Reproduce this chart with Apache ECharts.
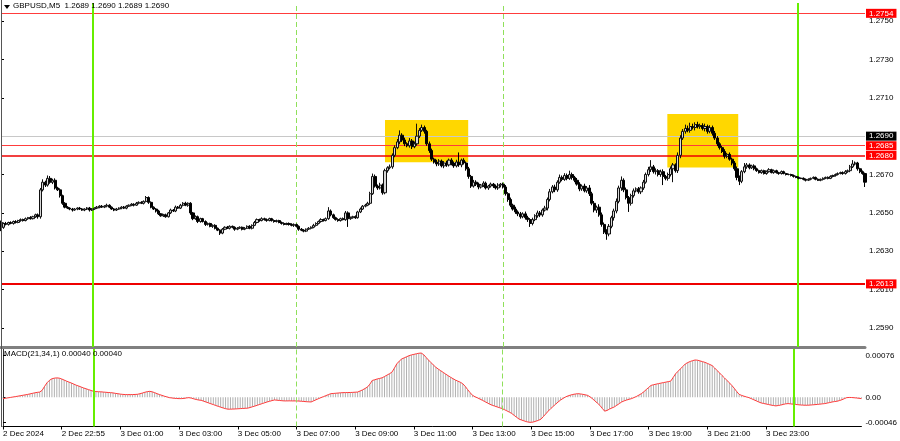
<!DOCTYPE html>
<html><head><meta charset="utf-8">
<script src="https://cdn.jsdelivr.net/npm/echarts@6/dist/echarts.min.js"></script>
<style>html,body{margin:0;padding:0;background:#fff}#c{width:900px;height:441px}</style>
</head><body><div id="c"></div>
<script>
// ---------------- DATA ----------------
const BASE = 1.2600;          // closes / wicks are given in pips above BASE
const firstOpen = 45.0;
const closes = [
42.5,44.5,44.0,45.0,44.5,45.5,45.0,46.0,46.5,46.0,
47.0,47.5,47.0,48.0,49.0,48.0,62.0,66.0,64.5,68.0,
66.0,67.0,63.0,62.0,59.0,55.0,53.0,52.5,52.0,51.5,
52.0,52.5,52.0,51.5,52.0,52.5,51.5,52.0,52.5,53.0,
53.5,53.0,53.5,54.0,53.0,52.0,51.5,52.0,52.5,53.0,
52.5,53.5,54.0,54.5,54.0,55.0,55.5,55.0,56.0,58.0,
55.5,53.0,52.0,51.0,49.5,48.5,49.0,48.0,50.0,51.5,
51.0,53.0,52.5,54.0,55.0,54.0,55.0,50.0,47.0,48.0,
45.5,47.0,45.5,44.0,44.5,43.0,43.5,42.0,41.0,39.5,
41.5,42.5,42.0,43.0,42.5,41.5,42.0,42.5,41.5,42.0,
43.0,42.0,43.5,45.0,46.5,46.0,47.0,46.5,46.0,47.0,
46.0,45.5,46.0,45.0,44.5,44.0,44.5,44.0,43.5,44.0,
43.0,41.5,41.0,40.5,41.5,42.0,42.5,43.5,44.5,45.5,
46.5,46.0,47.0,51.0,49.0,47.5,46.5,46.0,47.0,46.5,
50.0,47.0,47.5,48.0,47.5,50.5,52.0,53.5,54.0,55.0,
60.0,69.0,64.0,63.0,64.5,60.5,72.0,73.5,74.0,80.0,
84.0,87.0,90.5,88.0,86.0,85.0,87.5,84.5,86.0,90.0,
93.0,94.5,92.5,86.0,82.5,78.0,76.5,75.5,77.0,74.5,
76.0,75.0,77.5,76.0,74.5,76.5,75.0,77.5,76.0,73.0,
69.0,64.0,66.0,65.0,63.5,64.5,65.5,63.0,64.0,65.0,
64.0,63.0,64.5,65.0,63.5,60.0,57.0,54.0,52.0,50.5,
49.5,48.0,49.5,47.5,46.5,44.5,46.5,48.5,50.0,49.0,
51.5,52.5,57.0,61.0,63.5,62.0,66.0,68.5,67.5,69.5,
68.0,70.0,68.5,67.0,65.0,62.5,64.0,61.5,63.0,60.0,
55.0,51.5,53.0,49.0,44.0,40.0,39.0,43.0,47.5,51.0,
56.0,63.0,67.0,62.0,58.0,55.0,59.0,61.5,62.5,61.0,
63.0,66.0,70.0,72.5,74.0,71.5,72.0,70.0,71.5,69.0,
68.0,70.0,73.0,75.0,72.0,80.0,89.0,92.5,94.0,93.0,
95.0,94.5,96.0,95.0,95.5,94.0,95.0,92.5,94.5,91.5,
89.0,86.0,84.0,82.0,79.5,80.5,78.0,76.0,73.0,68.5,
66.5,71.5,74.0,75.0,73.5,74.5,73.0,72.0,71.0,72.0,
70.5,71.5,72.5,71.0,72.0,71.0,70.5,71.5,70.5,70.0,
70.0,69.5,69.0,68.5,68.0,68.0,67.5,67.0,67.5,68.0,
68.5,67.5,67.0,67.5,68.0,68.5,68.0,69.0,69.5,70.0,
70.5,71.0,70.5,71.5,72.0,74.0,75.5,76.0,73.0,71.5,
70.5,66.0
];
const wickUp = [
1.0,0.5,0.8,0.4,0.6,0.5,0.7,0.4,0.6,0.5,
0.6,0.4,0.8,0.5,0.6,0.7,1.0,1.5,0.8,1.5,
1.2,0.8,1.0,0.6,0.8,0.5,0.6,0.5,0.4,0.6,
0.5,0.4,0.6,0.5,0.4,0.5,0.6,0.5,0.4,0.6,
0.5,0.6,0.5,0.8,0.5,0.4,0.5,0.6,0.4,0.5,
0.6,0.5,0.4,0.6,0.5,0.7,0.5,0.6,0.5,0.8,
0.6,0.5,0.4,0.5,0.6,0.4,0.5,0.6,0.5,0.7,
0.5,0.8,0.6,0.7,0.6,0.8,0.5,0.6,0.5,0.7,
0.6,0.5,0.4,0.6,0.5,0.4,0.5,0.6,0.4,0.5,
0.6,0.5,0.7,0.5,0.4,0.5,0.6,0.5,0.4,0.6,
0.5,0.6,0.5,0.8,0.6,0.5,0.7,0.5,0.6,0.5,
0.4,0.6,0.5,0.4,0.5,0.6,0.4,0.5,0.6,0.5,
0.4,0.5,0.6,0.5,0.4,0.6,0.5,0.8,0.6,0.5,
0.7,0.5,0.6,2.0,0.8,0.6,0.5,0.7,0.5,0.6,
1.0,0.8,0.6,0.5,0.7,0.6,0.8,0.6,0.7,0.8,
1.0,1.5,1.0,0.8,1.2,0.8,1.0,0.8,1.2,1.0,
1.2,1.5,2.5,1.0,1.2,0.8,1.5,1.0,1.2,6.5,
1.2,1.5,1.0,0.8,1.2,1.0,0.8,1.2,1.0,0.8,
1.0,1.2,0.8,1.0,0.8,1.2,5.0,0.8,1.0,0.8,
1.0,0.8,1.2,1.0,0.8,0.6,1.0,0.8,0.6,0.8,
0.6,0.8,1.0,0.6,0.8,1.0,0.8,1.0,0.8,1.2,
0.8,1.0,0.8,1.2,1.0,0.8,1.0,0.8,1.2,1.0,
0.8,1.2,1.0,1.5,1.0,1.2,1.0,1.5,1.0,1.2,
1.0,2.0,1.0,0.8,1.2,1.0,0.8,1.2,1.0,1.5,
1.0,1.2,0.8,1.5,1.2,1.0,1.5,1.2,1.0,1.2,
1.5,1.2,2.0,1.0,1.2,0.8,1.0,1.2,0.8,1.0,
0.8,1.2,1.0,1.5,3.5,1.0,1.2,0.8,1.0,1.2,
0.8,1.0,1.2,1.0,0.8,1.5,1.5,1.2,2.0,1.5,
2.0,1.5,1.2,1.5,1.0,1.2,1.5,1.0,1.2,1.0,
1.2,1.0,0.8,1.0,1.2,0.8,1.0,0.8,1.0,1.2,
1.0,0.8,2.0,1.0,0.8,0.6,0.8,0.6,0.5,0.6,
0.5,0.6,0.8,0.5,0.6,0.5,0.4,0.6,0.5,0.4,
0.5,0.4,0.5,0.4,0.5,0.4,0.5,0.4,0.5,0.4,
0.5,0.4,0.5,0.4,0.5,0.4,0.5,0.6,0.4,0.5,
0.6,0.5,0.6,0.8,0.6,1.0,2.0,0.8,0.6,0.5,
0.6,0.5
];
const wickDn = [
2.0,0.8,0.5,0.6,0.4,0.6,0.5,0.4,0.6,0.5,
0.4,0.6,0.5,0.4,0.6,1.0,1.0,0.8,1.0,0.8,
0.8,1.0,0.8,0.6,1.0,0.8,0.6,0.5,0.6,0.8,
0.4,0.6,0.5,0.4,0.6,0.5,0.8,0.5,0.4,0.5,
0.6,0.4,0.5,0.6,0.5,0.4,0.6,0.5,0.4,0.6,
0.5,0.6,0.4,0.5,0.6,0.4,0.5,0.4,0.6,0.5,
0.8,0.6,0.5,0.8,0.6,0.5,0.6,0.5,0.4,0.6,
0.5,0.6,0.4,0.5,0.6,0.5,0.8,1.0,0.8,0.6,
0.8,0.6,0.5,0.8,0.6,0.5,0.8,0.6,0.5,1.0,
0.6,0.5,0.4,0.6,0.5,0.8,0.5,0.4,0.6,0.5,
0.4,0.5,0.6,0.4,0.5,0.6,0.4,0.5,0.6,0.4,
0.5,0.6,0.5,0.4,0.6,0.5,0.4,0.6,0.5,0.8,
0.6,0.8,0.5,0.6,0.5,0.4,0.6,0.5,0.6,0.5,
0.6,0.5,0.4,0.6,0.8,0.6,0.5,0.6,0.5,0.4,
0.6,4.3,0.6,0.5,0.6,0.5,0.6,0.5,0.6,0.5,
0.8,0.6,0.8,1.0,0.8,1.0,0.8,1.0,0.8,1.0,
1.0,0.8,1.2,1.0,1.2,0.8,1.0,1.2,0.8,1.0,
1.0,0.8,1.2,1.0,1.2,1.0,0.8,1.2,1.0,0.8,
1.2,1.0,0.8,1.2,1.0,0.8,1.0,1.2,0.8,1.0,
1.2,1.0,0.8,1.0,1.2,0.8,1.0,0.8,1.0,0.8,
1.0,0.8,1.0,1.2,0.8,1.0,1.2,1.0,0.8,1.0,
1.2,1.0,0.8,1.0,1.2,1.8,1.0,0.8,1.0,1.2,
1.0,0.8,1.2,1.0,0.8,1.2,1.0,0.8,1.0,0.8,
1.0,0.8,1.2,1.0,0.8,1.2,1.0,0.8,1.0,1.2,
1.0,1.2,1.5,1.0,1.2,1.0,3.0,1.2,1.0,1.5,
1.2,1.0,1.5,1.2,1.0,4.5,1.2,1.0,0.8,1.0,
1.2,1.0,0.8,1.0,1.2,1.0,1.5,1.0,1.2,4.5,
1.0,1.2,1.0,7.0,1.0,1.2,1.5,1.0,1.2,1.0,
1.2,1.0,1.5,1.0,1.2,1.0,1.5,1.2,1.0,1.2,
1.0,1.2,1.0,0.8,1.2,1.0,0.8,1.2,1.0,1.5,
2.0,1.0,0.8,1.0,0.8,0.6,0.8,0.6,0.5,0.6,
0.5,0.6,0.5,0.4,0.6,0.5,0.6,0.5,0.4,0.5,
0.4,0.5,0.6,0.4,0.5,0.4,0.5,0.6,0.4,0.5,
0.4,0.5,0.4,0.5,0.6,0.4,0.5,0.4,0.5,0.6,
0.5,0.4,0.6,0.5,0.6,0.8,0.6,0.8,1.0,0.8,
0.6,2.5
];
// MACD(21,34,1) histogram values, in units of 0.00001
const macd = [
-2.4,-1.8,-1.0,-0.3,0.5,1.2,2.0,2.8,3.6,4.4,
5.2,6.2,7.2,8.2,9.0,9.6,12.7,20.0,26.5,31.0,
33.8,35.0,35.5,35.0,33.5,31.5,29.5,27.7,26.0,24.0,
22.0,20.5,18.7,17.0,15.5,14.0,12.5,10.9,10.5,10.2,
10.0,9.6,9.2,8.8,8.5,8.0,7.2,6.5,5.8,5.3,
5.0,4.9,4.9,5.0,5.2,5.5,6.5,7.8,9.2,10.3,
10.9,10.0,8.5,6.6,5.0,3.5,2.0,0.8,-0.6,-1.2,
-1.8,-2.2,-2.4,-2.4,-2.0,-1.2,-0.6,-1.5,-2.8,-4.0,
-5.0,-5.4,-7.0,-8.6,-10.2,-11.8,-13.3,-15.0,-16.5,-18.0,
-19.5,-20.8,-21.7,-21.7,-21.5,-21.3,-21.0,-20.7,-20.4,-20.1,
-19.9,-18.7,-17.3,-16.0,-14.5,-13.0,-11.5,-10.0,-8.5,-7.3,
-6.0,-4.9,-5.3,-5.8,-6.2,-6.6,-6.6,-6.5,-6.6,-6.6,
-6.6,-6.9,-7.2,-7.6,-8.0,-8.3,-8.5,-6.5,-4.5,-2.5,
-0.6,1.2,3.0,4.8,6.6,7.0,7.4,7.8,8.2,8.5,
8.6,8.7,8.8,9.0,9.3,9.6,11.5,13.5,16.0,18.7,
24.0,30.8,32.0,33.5,34.5,35.6,38.0,40.5,43.0,45.8,
53.0,61.0,66.0,70.0,72.0,74.0,76.0,77.5,78.5,79.5,
80.5,80.9,78.0,72.9,68.0,63.5,59.0,54.8,51.5,48.5,
45.5,42.5,39.5,36.7,34.0,31.5,29.5,27.5,24.8,20.0,
14.0,8.5,3.6,1.0,-1.0,-3.2,-5.4,-7.8,-10.2,-12.5,
-14.5,-16.0,-17.5,-19.0,-20.5,-22.5,-24.7,-27.0,-29.5,-33.0,
-36.5,-39.8,-41.5,-43.0,-44.5,-45.5,-45.8,-45.0,-43.5,-42.0,
-39.8,-35.0,-30.0,-25.0,-20.5,-16.5,-12.5,-8.5,-5.0,-2.0,
0.6,2.5,4.0,5.2,6.0,6.6,6.2,5.5,4.6,3.6,
1.0,-2.5,-6.5,-10.5,-14.5,-20.0,-25.3,-24.0,-21.5,-19.5,
-17.5,-14.5,-11.5,-8.5,-6.5,-5.0,-3.6,-2.4,-0.5,1.5,
4.0,6.6,10.0,14.0,18.0,21.7,23.0,24.0,25.0,25.9,
26.8,27.7,28.6,29.5,36.0,42.9,47.5,52.0,56.5,61.0,
63.5,65.5,67.0,68.2,67.8,66.5,65.2,63.9,62.0,60.0,
57.9,53.5,49.0,44.5,39.8,35.5,31.0,26.5,21.7,16.5,
10.5,5.4,3.5,2.0,0.7,-0.6,-2.5,-4.5,-6.5,-8.5,
-10.3,-11.3,-12.2,-13.2,-14.2,-15.0,-15.7,-15.0,-14.2,-13.0,
-12.0,-11.5,-12.0,-12.5,-13.0,-13.5,-14.0,-14.3,-14.5,-14.5,
-14.2,-13.8,-13.4,-13.0,-12.5,-12.0,-11.5,-10.6,-9.6,-8.6,
-7.8,-7.2,-6.0,-4.5,-2.5,-0.6,-0.3,-0.4,-0.8,-1.3,
-1.8,-2.4
];
const tickLabels = ['2 Dec 2024','2 Dec 22:55','3 Dec 01:00','3 Dec 03:00','3 Dec 05:00','3 Dec 07:00',
  '3 Dec 09:00','3 Dec 11:00','3 Dec 13:00','3 Dec 15:00','3 Dec 17:00','3 Dec 19:00','3 Dec 21:00',
  '3 Dec 23:00','4 Dec 01:15'];
const priceTicks = [1.2590,1.2610,1.2630,1.2650,1.2670,1.2690,1.2710,1.2730,1.2750];
const macdTicks = [0.00076, 0, -0.00046];
const levels = [1.2754, 1.2685, 1.2680, 1.2613];
const bidLevel = 1.2690;
const dayLines = [37.1, 323.5];       // bar positions
const sessionLines = [120.1, 204.1];  // bar positions
const zones = [[156.0, 189.8, 1.26984, 1.26764], [270.7, 299.5, 1.27015, 1.26736]];
const header = 'GBPUSD,M5  1.2689 1.2690 1.2689 1.2690';
const macdHeader = 'MACD(21,34,1) 0.00040 0.00040';

// ---------------- BUILD ----------------
const N = closes.length;
const cats = Array.from({length: N}, (_, i) => (i % 24 === 0 && tickLabels[i / 24]) ? tickLabels[i / 24] : '');
const ohlc = closes.map((c, i) => {
  const o = i === 0 ? firstOpen : closes[i - 1];
  const h = Math.max(o, c) + wickUp[i];
  const l = Math.min(o, c) - wickDn[i];
  const p = v => +(BASE + v / 10000).toFixed(5);
  return [p(o), p(c), p(l), p(h)];
});
const macdVals = macd.map(v => v * 1e-5);

const FONT = 'Liberation Sans';
const levelStyle = [
  {color: '#ff3c3c', width: 1.2}, {color: '#ff3c3c', width: 1.2},
  {color: '#ee0000', width: 1.5}, {color: '#ee0000', width: 2}
];
const boxLabel = (txt, bg) => ({
  show: true, position: 'end', distance: 1, formatter: txt,
  backgroundColor: bg, color: '#fff', fontSize: 8, fontFamily: FONT,
  padding: [1, 3, 0, 3], lineHeight: 8
});

const pMax = 1.2750 + 18 / 19190, pMin = 1.2750 - 326 / 19190;
const mMax = 48.3 / 54700, mMin = -29.2 / 54700;

const option = {
  animation: false,
  backgroundColor: '#fff',
  textStyle: {fontFamily: FONT},
  grid: [
    {left: 1, right: 35, top: 3, height: 344},
    {left: 1, right: 35, top: 349, height: 77.5}
  ],
  xAxis: [
    {type: 'category', gridIndex: 0, data: cats, boundaryGap: false,
     axisLine: {onZero: false, lineStyle: {color: '#808080', width: 3}},
     axisTick: {show: false}, axisLabel: {show: false}, splitLine: {show: false}},
    {type: 'category', gridIndex: 1, data: cats, boundaryGap: false,
     axisLine: {onZero: false, lineStyle: {color: '#000', width: 1}},
     axisTick: {interval: 23, length: 3, lineStyle: {color: '#000'}},
     axisLabel: {interval: 23, align: 'left', margin: 3, fontSize: 8, color: '#000', fontFamily: FONT,
                 showMaxLabel: false},
     splitLine: {show: false}},
    {type: 'value', gridIndex: 0, min: 0, max: N - 1, show: false},
    {type: 'value', gridIndex: 1, min: 0, max: N - 1, show: false}
  ],
  yAxis: [
    {type: 'value', gridIndex: 0, position: 'right', min: pMin, max: pMax, scale: true,
     axisLine: {show: true, lineStyle: {color: '#333'}},
     axisTick: {show: true, length: 3, customValues: priceTicks, lineStyle: {color: '#000'}},
     axisLabel: {customValues: priceTicks, formatter: v => v.toFixed(4), fontSize: 8, color: '#000',
                 margin: 4, fontFamily: FONT},
     splitLine: {show: false}},
    {type: 'value', gridIndex: 1, position: 'right', min: mMin, max: mMax,
     axisLine: {show: true, lineStyle: {color: '#333'}},
     axisTick: {show: true, length: 3, customValues: macdTicks, lineStyle: {color: '#000'}},
     axisLabel: {customValues: macdTicks, formatter: v => Math.abs(v) < 1e-9 ? '0.00' : v.toFixed(5),
                 fontSize: 8, color: '#000', margin: 4, fontFamily: FONT},
     splitLine: {show: false}}
  ],
  series: [
    { // yellow zones
      type: 'line', xAxisIndex: 2, yAxisIndex: 0, data: [], z: 1, silent: true,
      markArea: {silent: true, itemStyle: {color: '#FFD700', opacity: 1},
        data: zones.map(z => [{xAxis: z[0], yAxis: z[2]}, {xAxis: z[1], yAxis: z[3]}])}
    },
    { // horizontal levels
      type: 'line', xAxisIndex: 2, yAxisIndex: 0, data: [], z: 3, silent: true,
      markLine: {silent: true, symbol: ['none', 'none'], animation: false, precision: 6,
        data: [
          {yAxis: bidLevel, lineStyle: {color: '#c8c8c8', width: 1, type: 'solid'},
           label: boxLabel(bidLevel.toFixed(4), '#000')},
          ...levels.map((v, k) => ({yAxis: v,
            lineStyle: {color: levelStyle[k].color, width: levelStyle[k].width, type: 'solid'},
            label: boxLabel(v.toFixed(4), '#ff0000')}))
        ]}
    },
    { // vertical separators main
      type: 'line', xAxisIndex: 2, yAxisIndex: 0, data: [], z: 2, silent: true,
      markLine: {silent: true, symbol: ['none', 'none'], label: {show: false}, precision: 3,
        data: [
          ...dayLines.map(x => ({xAxis: x, lineStyle: {color: '#66ee00', width: 2, type: 'solid'}})),
          ...sessionLines.map(x => ({xAxis: x, lineStyle: {color: '#8fe05a', width: 1, type: [5, 3]}}))
        ]}
    },
    { // vertical separators macd
      type: 'line', xAxisIndex: 3, yAxisIndex: 1, data: [], z: 4, silent: true,
      markLine: {silent: true, symbol: ['none', 'none'], label: {show: false}, precision: 3,
        data: [
          ...dayLines.map(x => ({xAxis: x, lineStyle: {color: '#66ee00', width: 2, type: 'solid'}})),
          ...sessionLines.map(x => ({xAxis: x, lineStyle: {color: '#8fe05a', width: 1, type: [5, 3]}}))
        ]}
    },
    {
      type: 'candlestick', xAxisIndex: 0, yAxisIndex: 0, data: ohlc, z: 5, silent: true,
      barWidth: 2.6,
      itemStyle: {color: '#d8d8d8', color0: '#000000', borderColor: '#111', borderColor0: '#000', borderWidth: 1},
      emphasis: {disabled: true}
    },
    {
      type: 'bar', xAxisIndex: 1, yAxisIndex: 1, data: macdVals, barWidth: 1, silent: true,
      itemStyle: {color: '#b0b0b0'}, z: 2, emphasis: {disabled: true}
    },
    {
      type: 'line', xAxisIndex: 1, yAxisIndex: 1, data: macdVals, symbol: 'none', silent: true,
      lineStyle: {color: '#ff3a3a', width: 1}, z: 3
    }
  ],
  graphic: [
    {type: 'line', shape: {x1: 1.5, y1: 0, x2: 1.5, y2: 427}, style: {stroke: '#555', lineWidth: 1}, z: 100},
    {type: 'polygon', shape: {points: [[4, 5], [10, 5], [7, 9]]}, style: {fill: '#000'}, z: 100},
    {type: 'text', left: 13, top: 2, style: {text: header, font: '8px "Liberation Sans"', fill: '#000'}, z: 100},
    {type: 'text', left: 4, top: 350, style: {text: macdHeader, font: '8px "Liberation Sans"', fill: '#000'}, z: 100}
  ]
};
const chart = echarts.init(document.getElementById('c'), null, {renderer: 'canvas'});
chart.setOption(option);
</script>
</body></html>
